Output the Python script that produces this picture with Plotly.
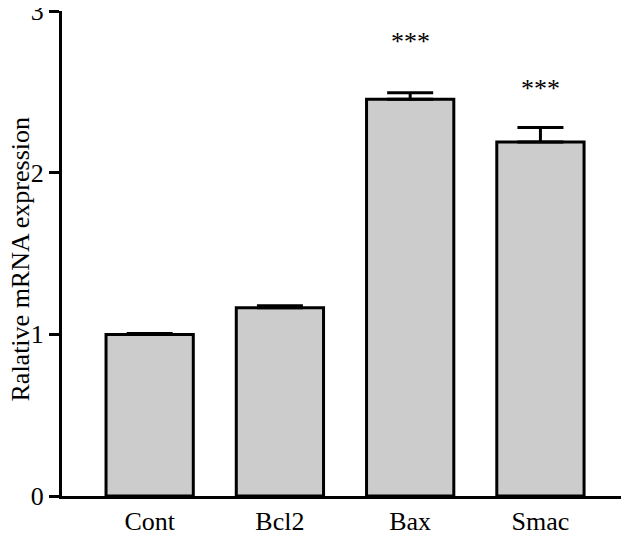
import plotly.graph_objects as go

categories = ["Cont", "Bcl2", "Bax", "Smac"]
values = [1.0, 1.165, 2.455, 2.19]
errors = [0.005, 0.012, 0.04, 0.09]
stars = ["", "", "***", "***"]
star_y = [None, None, 2.815, 2.52]
y_ticks = [0, 1, 2, 3]

fig = go.Figure()
fig.add_trace(go.Bar(
    x=categories, y=values,
    width=0.67,
    marker=dict(color="#cccccc", line=dict(color="black", width=3)),
    error_y=dict(type="data", symmetric=False, array=errors,
                 arrayminus=[0]*len(errors), color="black", thickness=3, width=23),
))
for c, s, yy in zip(categories, stars, star_y):
    if s:
        fig.add_annotation(x=c, y=yy, text=s, showarrow=False,
                           font=dict(family="Liberation Serif", size=26, color="black"))

# y-axis title as a rotated annotation for exact placement
fig.add_annotation(xref="paper", yref="paper", x=0, y=0.5, xanchor="center", yanchor="middle",
                   xshift=-42, yshift=-6, textangle=-90, showarrow=False,
                   text="Ralative mRNA expression",
                   font=dict(family="Liberation Serif", size=26, color="black"))

fig.update_layout(
    width=621, height=529,
    margin=dict(l=54, r=0, t=3, b=41),
    plot_bgcolor="white", paper_bgcolor="white",
    showlegend=False,
    font=dict(family="Liberation Serif", size=27, color="black"),
)
fig.update_xaxes(range=[-0.673, 3.68], showline=True, linecolor="black", linewidth=3,
                 ticks="", tickfont=dict(size=26), showgrid=False, zeroline=False,
                 automargin=False)
fig.update_yaxes(range=[0, 3.001], tickvals=y_ticks, showline=True, linecolor="black",
                 linewidth=3, ticks="outside", ticklen=10, tickwidth=3, tickcolor="black",
                 tickfont=dict(size=26), showgrid=False, zeroline=False, automargin=False,
                 ticklabeloverflow="allow")
fig.write_html("out.html")
